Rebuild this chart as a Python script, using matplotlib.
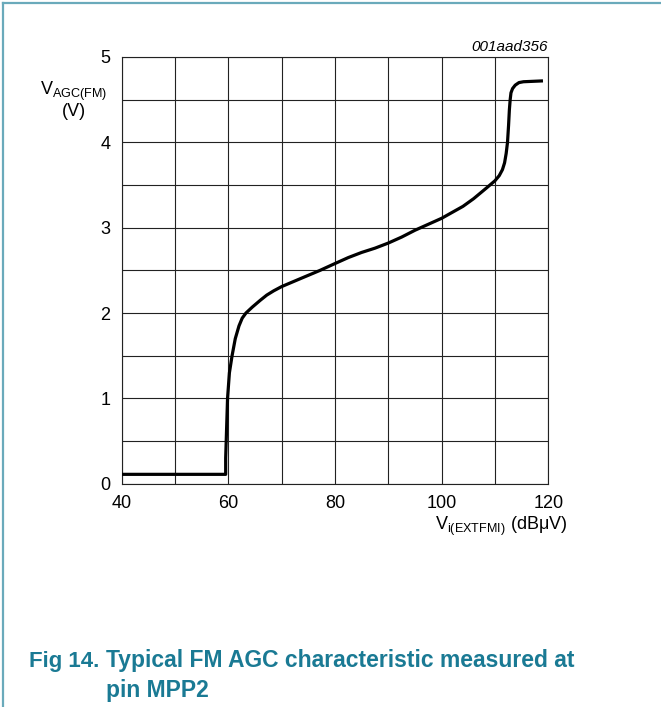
import matplotlib

matplotlib.use("Agg")
from matplotlib import pyplot as plt
from matplotlib.lines import Line2D

plt.rcParams["font.family"] = ["Liberation Sans", "DejaVu Sans"]
plt.rcParams["mathtext.fontset"] = "custom"
plt.rcParams["mathtext.rm"] = "Liberation Sans"
plt.rcParams["mathtext.it"] = "Liberation Sans:italic"

# curve (dBuV, V)
vi_dbuv = [40, 59.5, 59.5, 59.6, 59.85, 60.2, 60.7, 61.3, 62.0, 62.6, 63.3, 64.5,
           66.0, 67.2, 68.5, 70, 73.4, 77.2, 80, 82.5, 85, 87.5, 90, 92.5, 95,
           97.5, 100, 102, 104, 106, 108.5, 110, 110.8, 111.4, 111.8, 112.1,
           112.35, 112.55, 112.7, 112.85, 113.0, 113.3, 113.8, 114.5, 115.35, 119.0]
v_agc = [0.11, 0.11, 0.3, 0.5, 1.0, 1.3, 1.5, 1.7, 1.85, 1.94, 2.0, 2.07,
         2.15, 2.21, 2.26, 2.31, 2.40, 2.50, 2.58, 2.65, 2.71, 2.76, 2.82, 2.89, 2.97,
         3.04, 3.11, 3.18, 3.25, 3.34, 3.47, 3.55, 3.61, 3.68, 3.76, 3.87,
         4.0, 4.2, 4.38, 4.5, 4.58, 4.63, 4.67, 4.70, 4.71, 4.72]

x_ticks = [40, 60, 80, 100, 120]
y_ticks = [0, 1, 2, 3, 4, 5]

teal = "#1a7a94"
border = "#6aaabb"

fig = plt.figure(figsize=(6.61, 7.07), dpi=100)
fig.patch.set_facecolor("white")

# page frame (top and left rules)
fig.add_artist(Line2D([0.004, 1.0], [0.996, 0.996], color=border, linewidth=1.6))
fig.add_artist(Line2D([0.004, 0.004], [0.0, 0.996], color=border, linewidth=1.6))

ax = fig.add_axes([0.1841, 0.3158, 0.6454, 0.6036])
ax.plot(vi_dbuv, v_agc, color="black", linewidth=2.3, solid_joinstyle="round",
        solid_capstyle="butt", zorder=3)

ax.set_xlim(40, 120)
ax.set_ylim(0, 5)
ax.set_xticks(x_ticks)
ax.set_yticks(y_ticks)
ax.set_xticks(range(40, 121, 10), minor=True)
ax.set_yticks([i * 0.5 for i in range(11)], minor=True)
ax.grid(which="both", color="#222222", linewidth=0.8)
ax.tick_params(which="both", length=0, labelsize=13, colors="black")
ax.tick_params(axis="x", pad=8)
ax.tick_params(axis="y", pad=8)
for spine in ax.spines.values():
    spine.set_color("#222222")
    spine.set_linewidth(0.8)

ax.text(1.0, 1.014, "001aad356", transform=ax.transAxes, ha="right", va="baseline",
        fontsize=11, style="italic")

fig.text(0.112, 0.8656, r"$\mathregular{V_{AGC(FM)}}$", ha="center", va="baseline", fontsize=13)
fig.text(0.112, 0.836, "(V)", ha="center", va="baseline", fontsize=13)
fig.text(0.858, 0.251, r"$\mathregular{V_{i(EXTFMI)}}$ (dB$\mathregular{\mu}$V)", ha="right",
         va="baseline", fontsize=13)

fig.text(0.150, 0.0566, "Fig 14.", ha="right", va="baseline", fontsize=16,
         fontweight="bold", color=teal)
fig.text(0.161, 0.0566, "Typical FM AGC characteristic measured at", ha="left",
         va="baseline", fontsize=16.5, fontweight="bold", color=teal)
fig.text(0.161, 0.014, "pin MPP2", ha="left", va="baseline", fontsize=16.5,
         fontweight="bold", color=teal)

fig.savefig("out.png", dpi=100)
